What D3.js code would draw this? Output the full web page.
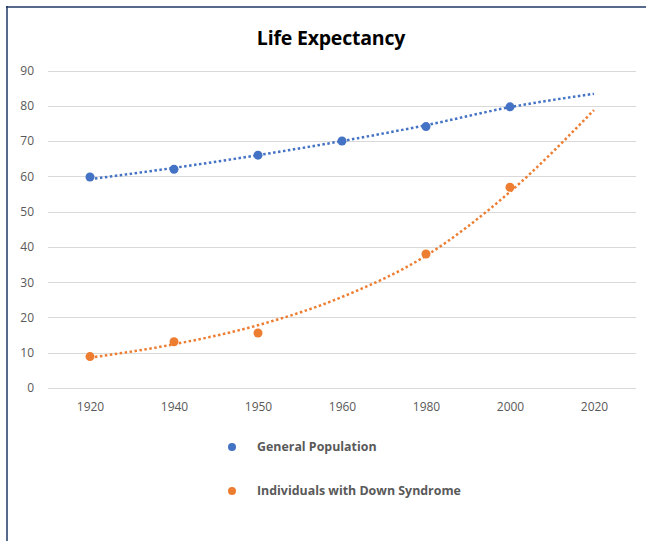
<!DOCTYPE html>
<html lang="en">
<head>
<meta charset="utf-8">
<title>Life Expectancy</title>
<script src="https://cdn.jsdelivr.net/npm/d3@7/dist/d3.min.js"></script>
<style>
  html, body { margin: 0; padding: 0; background: #fff; }
  text { font-family: "Open Sans", "Noto Sans", sans-serif; }
  .axis text { fill: #595959; font-size: 12px; }
  .axis path, .axis line { display: none; }
  .grid line { stroke: #d9d9d9; stroke-width: 1; shape-rendering: crispEdges; }
  .trend { fill: none; stroke-width: 2.5; stroke-dasharray: 2.5, 2.5; }
  .legend text { fill: #595959; font-size: 12.4px; font-weight: bold; }
</style>
</head>
<body>
<script>
// categories on the x axis (evenly spaced, like an Excel category axis)
var years = ["1920", "1940", "1950", "1960", "1980", "2000", "2020"];
var yTicks = [0, 10, 20, 30, 40, 50, 60, 70, 80, 90];

// observed points
var generalPop = [
  { year: "1920", value: 59.8 },
  { year: "1940", value: 62.0 },
  { year: "1950", value: 66.0 },
  { year: "1960", value: 70.0 },
  { year: "1980", value: 74.1 },
  { year: "2000", value: 79.7 }
];
var downSyndrome = [
  { year: "1920", value: 8.9 },
  { year: "1940", value: 13.1 },
  { year: "1950", value: 15.6 },
  { year: "1980", value: 38.0 },
  { year: "2000", value: 56.9 }
];

// trendlines at each category
var generalTrend = [59.2, 62.4, 66.0, 70.0, 74.5, 79.6, 83.4];
var downTrend = [8.6, 12.4, 17.8, 25.8, 37.5, 55.6, 78.8];

var seriesNames = ["General Population", "Individuals with Down Syndrome"];
var colors = ["#4472C4", "#ED7D31"];

var W = 646, H = 541;
var plot = { left: 48, right: 636, top: 70.5, bottom: 388 };

var svg = d3.select("body").append("svg")
  .attr("width", W).attr("height", H);

// chart frame (only top and left edges visible in the crop)
svg.append("line").attr("x1", 6).attr("x2", W).attr("y1", 7).attr("y2", 7)
  .attr("stroke", "#1f3864").attr("stroke-width", 1.5);
svg.append("line").attr("x1", 7).attr("x2", 7).attr("y1", 6).attr("y2", H)
  .attr("stroke", "#1f3864").attr("stroke-width", 1.5);

svg.append("text")
  .attr("x", 331).attr("y", 45)
  .attr("text-anchor", "middle")
  .style("font-size", "19.5px").style("font-weight", "bold").style("fill", "#000")
  .style("letter-spacing", "-0.2px")
  .text("Life Expectancy");

var x = d3.scalePoint().domain(years)
  .range([plot.left, plot.right]).padding(0.5);
var y = d3.scaleLinear().domain([0, 90]).range([plot.bottom, plot.top]);

svg.append("g").attr("class", "grid")
  .selectAll("line").data(yTicks).join("line")
  .attr("x1", plot.left).attr("x2", plot.right)
  .attr("y1", function(d) { return Math.round(y(d)) + 0.5; })
  .attr("y2", function(d) { return Math.round(y(d)) + 0.5; });

svg.append("g").attr("class", "axis y")
  .attr("transform", "translate(" + (plot.left - 6) + ",0)")
  .call(d3.axisLeft(y).tickValues(yTicks).tickSize(0).tickPadding(8));

svg.append("g").attr("class", "axis x")
  .attr("transform", "translate(0," + plot.bottom + ")")
  .call(d3.axisBottom(x).tickSize(0).tickPadding(14));

var line = d3.line()
  .x(function(d, i) { return x(years[i]); })
  .y(function(d) { return y(d); })
  .curve(d3.curveMonotoneX);

[generalTrend, downTrend].forEach(function(t, i) {
  svg.append("path").attr("class", "trend")
    .attr("stroke", colors[i])
    .attr("d", line(t));
});

[generalPop, downSyndrome].forEach(function(s, i) {
  svg.append("g").selectAll("circle").data(s).join("circle")
    .attr("cx", function(d) { return x(d.year); })
    .attr("cy", function(d) { return y(d.value); })
    .attr("r", 4.5)
    .attr("fill", colors[i]);
});

var legend = svg.append("g").attr("class", "legend");
var legendY = [447, 491];
seriesNames.forEach(function(name, i) {
  legend.append("circle").attr("cx", 232).attr("cy", legendY[i])
    .attr("r", 4).attr("fill", colors[i]);
  legend.append("text").attr("x", 257).attr("y", legendY[i] + 4).text(name);
});
</script>
</body>
</html>
